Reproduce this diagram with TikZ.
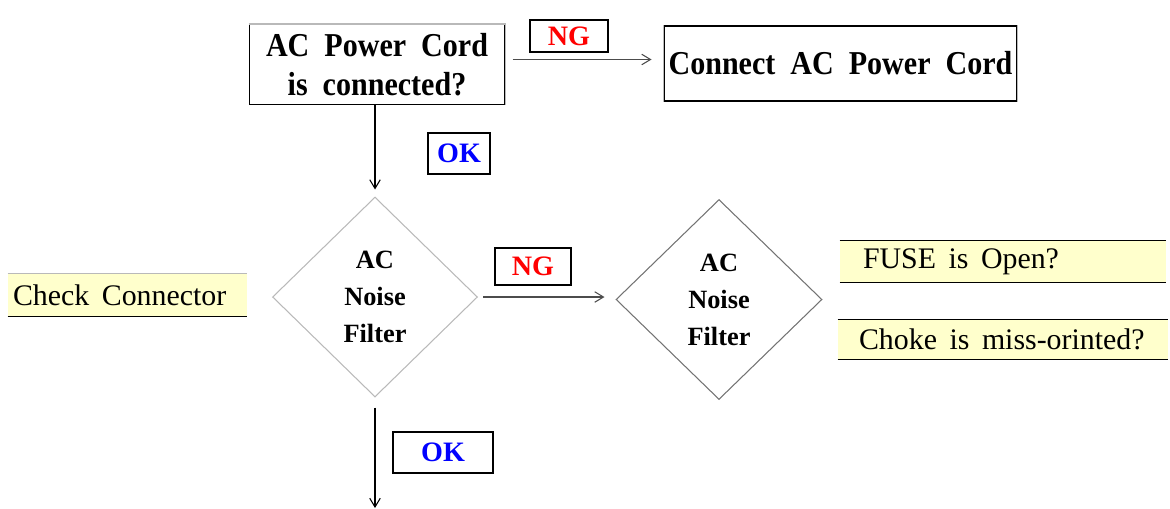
\documentclass[tikz,border=0pt]{standalone}
\usepackage{fontspec}
\setmainfont{Liberation Serif}
\newfontfamily\tallserif[FakeStretch=0.9]{Liberation Serif}
\usetikzlibrary{arrows.meta,positioning,shapes.geometric}
\definecolor{ngred}{RGB}{255,0,0}
\definecolor{okblue}{RGB}{0,0,255}
\definecolor{notey}{RGB}{255,255,204}
\definecolor{edgegray}{RGB}{185,185,185}
\newcommand{\wgap}{\hspace{0.42em}}
\tikzset{
  qbox/.style={draw=black, line width=0.6pt, inner sep=0pt, align=center,
              font=\tallserif\fontsize{19}{22.4}\selectfont\bfseries},
  tagbox/.style={draw=black, line width=0.6pt, inner sep=0pt,
              font=\fontsize{16}{18}\selectfont\bfseries},
  ngtag/.style={tagbox, text=ngred},
  oktag/.style={tagbox, text=okblue},
  dmd/.style={diamond, line width=0.6pt, inner sep=0pt, align=center,
              minimum width=4.1cm, minimum height=4.0cm,
              font=\fontsize{15}{21}\selectfont\bfseries},
  note/.style={fill=notey, inner ysep=0pt, minimum height=0.82cm, align=left,
              font=\fontsize{17}{20}\selectfont},
  flow/.style={-{Straight Barb[length=5pt,width=6pt]}, line width=0.6pt},
  hflow/.style={flow, black!70},
}
\begin{document}
\begin{tikzpicture}[x=0.02cm, y=-0.02cm]
    \useasboundingbox (0,0) rectangle (1170,508);
    % first check: power cord
    \node[qbox, minimum width=5.12cm, minimum height=1.6cm] (pwr) at (377,64.5)
      {AC~~Power~~Cord\\is~~connected?};
    \draw[edgegray, line width=0.6pt] (pwr.north west) -- (pwr.north east) -- (pwr.south east);
    \node[qbox, minimum width=7.06cm, minimum height=1.5cm] (fix) at (840.5,63.5)
      {\raisebox{-2pt}{Connect~~AC~~Power~~Cord}};
    \draw[edgegray, line width=0.6pt] (fix.north west) -- (fix.south west)
      (fix.north east) -- (fix.south east);
    \node[ngtag, minimum width=1.56cm, minimum height=0.64cm] (ng1) at (569,36) {NG};
    \node[oktag, minimum width=1.24cm, minimum height=0.82cm] (ok1) at (459,153.5) {OK};
    % noise filter diamonds
    \node[dmd, draw=edgegray] (nf1) at (375,297) {AC\\Noise\\Filter};
    \node[dmd, draw=black!55, minimum width=4.12cm] (nf2) at (719,299.5) {AC\\Noise\\Filter};
    \node[ngtag, minimum width=1.52cm, minimum height=0.74cm] (ng2) at (533,266.5) {NG};
    \node[oktag, minimum width=2.0cm, minimum height=0.82cm] (ok2) at (443,452.5) {OK};
    % yellow notes
    \node[note, text width=4.58cm, inner xsep=0.1cm, minimum height=0.84cm] (conn) at (127.5,295)
      {Check\wgap Connector};
    \draw[edgegray, line width=0.6pt] (conn.north west) -- (conn.north east);
    \draw[line width=0.6pt] (conn.south west) -- (conn.south east);
    \node[note, text width=5.6cm, inner xsep=0.46cm] (fuse) at (1003,261.5)
      {\mbox{FUSE\wgap is\wgap Open?}};
    \node[note, text width=5.76cm, inner xsep=0.42cm, minimum height=0.8cm] (choke) at (1003,339.5)
      {\mbox{Choke\wgap is\wgap miss-orinted?}};
    \foreach \n in {fuse,choke}{
      \draw[line width=0.6pt] (\n.north west) -- (\n.north east);
      \draw[line width=0.6pt] (\n.south west) -- (\n.south east);
    }
    % connectors
    \coordinate (out) at (375,508);
    \draw[hflow, shorten <=0.14cm, shorten >=0.24cm]
      ([yshift=0.1cm]pwr.east) -- ([yshift=0.1cm]pwr.east -| fix.west);
    \draw[flow, shorten >=0.14cm] (pwr.south -| nf1.north) -- (nf1.north);
    \draw[hflow, shorten <=0.1cm, shorten >=0.22cm] (nf1.east) -- (nf1.east -| nf2.west);
    \draw[flow, shorten <=0.2cm] (nf1.south) -- (out);
\end{tikzpicture}
\end{document}
